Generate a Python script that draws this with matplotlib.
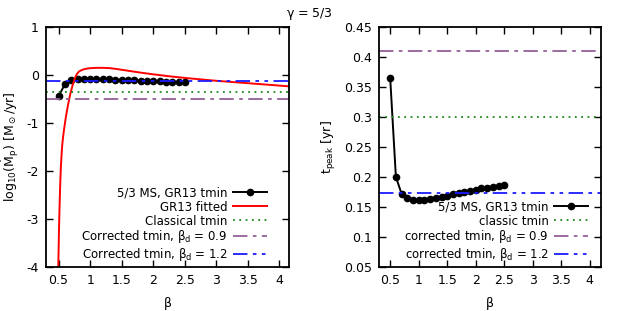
import numpy as np
import matplotlib
matplotlib.use("Agg")
import matplotlib.pyplot as plt
from matplotlib.ticker import FuncFormatter, MultipleLocator

plt.rcParams["font.family"] = ["DejaVu Sans"]
plt.rcParams["axes.unicode_minus"] = False
plt.rcParams["mathtext.default"] = "regular"

# simulation points, beta = 0.5 ... 2.5
beta = [0.5, 0.6, 0.7, 0.8, 0.9, 1.0, 1.1, 1.2, 1.3, 1.4, 1.5,
        1.6, 1.7, 1.8, 1.9, 2.0, 2.1, 2.2, 2.3, 2.4, 2.5]
log_mdot = [-0.44, -0.19, -0.10, -0.08, -0.08, -0.08, -0.08, -0.09, -0.09, -0.10, -0.10,
            -0.11, -0.11, -0.12, -0.12, -0.13, -0.13, -0.14, -0.14, -0.15, -0.15]
t_peak = [0.365, 0.200, 0.172, 0.165, 0.162, 0.162, 0.162, 0.164, 0.165, 0.167, 0.169,
          0.171, 0.173, 0.175, 0.177, 0.179, 0.181, 0.182, 0.184, 0.185, 0.187]

# GR13 fitted curve
fit_beta = [0.495, 0.505, 0.515, 0.525, 0.535, 0.545, 0.555, 0.57, 0.59, 0.61, 0.63,
            0.65, 0.67, 0.69, 0.71, 0.73, 0.75, 0.77, 0.79, 0.82, 0.86, 0.9, 0.95,
            1.0, 1.1, 1.2, 1.3, 1.4, 1.6, 1.8, 2.0, 2.25, 2.5, 2.75, 3.0, 3.5, 4.2]
fit_mdot = [-4.0, -3.3, -2.75, -2.3, -1.95, -1.7, -1.5, -1.3, -1.1, -0.92, -0.76,
            -0.62, -0.49, -0.37, -0.27, -0.18, -0.10, -0.03, 0.02, 0.07, 0.10, 0.12, 0.135,
            0.143, 0.15, 0.15, 0.145, 0.13, 0.09, 0.05, 0.015, -0.025, -0.06, -0.09, -0.12,
            -0.17, -0.24]

# horizontal reference levels
mdot_classic, mdot_bd09, mdot_bd12 = -0.36, -0.50, -0.12
t_classic, t_bd09, t_bd12 = 0.30, 0.41, 0.173

purple = "#94609a"
green = "#1a8a1a"
blue = "#1a1aff"
dashdot = (0, (8, 3, 2, 3))
dashdotdot = (0, (8, 3, 2, 3, 2, 3))
dotted = (0, (1, 2.5))

fig = plt.figure(figsize=(6.23, 3.11), dpi=100)
ax1 = fig.add_axes([0.0738, 0.1415, 0.390, 0.7715])
ax2 = fig.add_axes([0.608, 0.1415, 0.357, 0.7715])

fmt = FuncFormatter(lambda v, p: "%g" % round(v, 3))

ax1.plot(beta, log_mdot, color="black", lw=1.4, marker="o", ms=4.5, label="5/3 MS, GR13 tmin")
ax1.plot(fit_beta, fit_mdot, color="red", lw=1.4, label="GR13 fitted")
ax1.axhline(mdot_classic, color=green, lw=1.3, ls=dotted, label="Classical tmin")
ax1.axhline(mdot_bd09, color=purple, lw=1.3, ls=dashdot, label=r"Corrected tmin, $\beta_d$ = 0.9")
ax1.axhline(mdot_bd12, color=blue, lw=1.3, ls=dashdotdot, label=r"Corrected tmin, $\beta_d$ = 1.2")
ax1.set_xlim(0.3, 4.15)
ax1.set_ylim(-4, 1)
ax1.yaxis.set_major_locator(MultipleLocator(1))
ax1.set_ylabel(r"log$_{10}$($\dot{M}_p$) [M$_\odot$/yr]", fontsize=9)

ax2.plot(beta, t_peak, color="black", lw=1.4, marker="o", ms=4.5, label="5/3 MS, GR13 tmin")
ax2.axhline(t_classic, color=green, lw=1.3, ls=dotted, label="classic tmin")
ax2.axhline(t_bd09, color=purple, lw=1.3, ls=dashdot, label=r"corrected tmin, $\beta_d$ = 0.9")
ax2.axhline(t_bd12, color=blue, lw=1.3, ls=dashdotdot, label=r"corrected tmin, $\beta_d$ = 1.2")
ax2.set_xlim(0.3, 4.2)
ax2.set_ylim(0.05, 0.45)
ax2.yaxis.set_major_locator(MultipleLocator(0.05))
ax2.set_ylabel(r"t$_{peak}$ [yr]", fontsize=9)

for ax, anchor in ((ax1, (0.909, 0.015)), (ax2, (0.941, 0.015))):
    ax.xaxis.set_major_locator(MultipleLocator(0.5))
    ax.xaxis.set_major_formatter(fmt)
    ax.yaxis.set_major_formatter(fmt)
    ax.tick_params(direction="in", top=True, right=True, length=5, width=1, labelsize=9, pad=5)
    for s in ax.spines.values():
        s.set_linewidth(1.3)
    ax.set_xlabel(r"$\beta$", fontsize=9, labelpad=6)
    ax.legend(loc="lower right", bbox_to_anchor=anchor, frameon=False, markerfirst=False,
              fontsize=8.5, numpoints=1, handlelength=2.9, labelspacing=0.08,
              borderaxespad=0, borderpad=0, handletextpad=0.45)

fig.text(0.497, 0.955, r"$\gamma$ = 5/3", ha="center", va="center", fontsize=9)

fig.savefig("out.png", dpi=100)
